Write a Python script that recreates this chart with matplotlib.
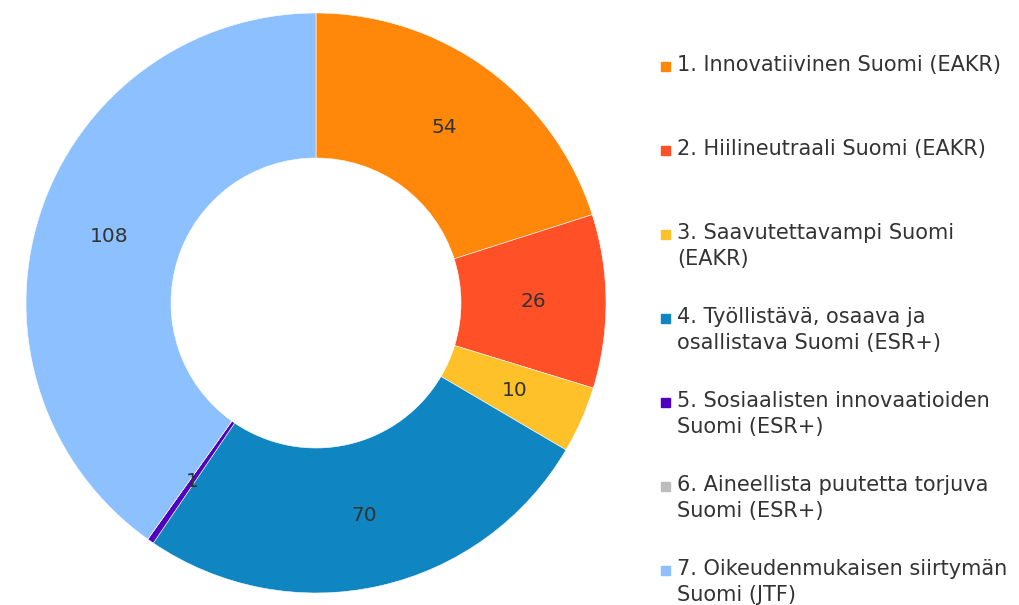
import matplotlib.pyplot as plt
from matplotlib.patches import Rectangle
import numpy as np

plt.rcParams['font.family'] = ['DejaVu Sans']

labels = ['1. Innovatiivinen Suomi (EAKR)',
          '2. Hiilineutraali Suomi (EAKR)',
          '3. Saavutettavampi Suomi\n(EAKR)',
          '4. Työllistävä, osaava ja\nosallistava Suomi (ESR+)',
          '5. Sosiaalisten innovaatioiden\nSuomi (ESR+)',
          '6. Aineellista puutetta torjuva\nSuomi (ESR+)',
          '7. Oikeudenmukaisen siirtymän\nSuomi (JTF)']
values = [54, 26, 10, 70, 1, 0, 108]
colors = ['#FF880A', '#FF5028', '#FFC12A', '#0F85C1', '#5000C0', '#BDBDBD', '#8CC0FF']

W, H = 1019, 605
fig = plt.figure(figsize=(W / 100, H / 100), dpi=100)

# donut: center (316, 303) px, radius 290 px
cx, cy, r = 316, 303, 290
ax = fig.add_axes([(cx - r) / W, (H - cy - r) / H, 2 * r / W, 2 * r / H])
wedges, _ = ax.pie(values, colors=colors, startangle=90, counterclock=False,
                   radius=1.0, wedgeprops=dict(width=0.5, linewidth=0.4, edgecolor='white'))
ax.set_xlim(-1, 1)
ax.set_ylim(-1, 1)
ax.set_aspect('equal')
ax.axis('off')

# value labels at the middle of the ring
total = sum(values)
ang = 90.0
for v in values:
    span = 360.0 * v / total
    mid = np.deg2rad(ang - span / 2)
    ang -= span
    if v == 0:
        continue
    ax.text(0.75 * np.cos(mid), 0.75 * np.sin(mid), str(v), ha='center', va='center',
            fontsize=14.5, color='#333333')

# legend drawn by hand
y0, step = 66, 84
for i, (lab, c) in enumerate(zip(labels, colors)):
    y = y0 + i * step
    fig.patches.append(Rectangle((661 / W, 1 - (y + 4.5) / H), 9 / W, 9 / H,
                                 transform=fig.transFigure, color=c))
    fig.text(677 / W, 1 - (y - 11) / H, lab, ha='left', va='top', fontsize=15,
             color='#333333', linespacing=1.36)

fig.savefig('out.png', dpi=100, facecolor='white')
